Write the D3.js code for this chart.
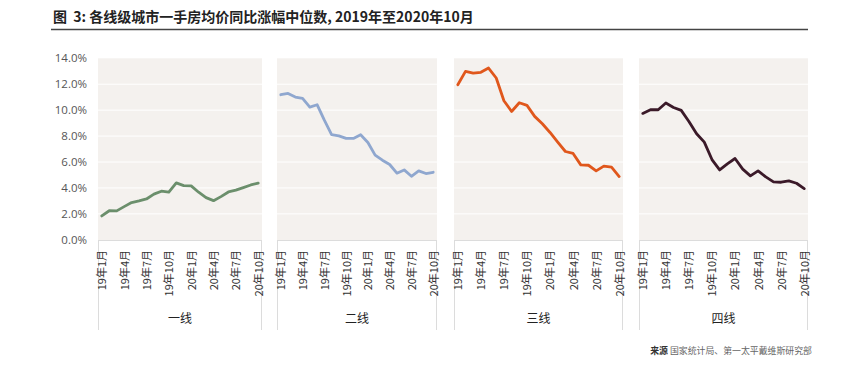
<!DOCTYPE html>
<html>
<head>
<meta charset="utf-8">
<script src="https://cdn.jsdelivr.net/npm/d3@7"></script>
<style>
  html, body { margin: 0; padding: 0; background: #ffffff; }
  svg { display: block; }
</style>
</head>
<body>
<svg id="chart" width="860" height="386"></svg>
<script>
// ---- data ----
const months = ["19年1月","19年2月","19年3月","19年4月","19年5月","19年6月","19年7月","19年8月","19年9月","19年10月","19年11月","19年12月",
                "20年1月","20年2月","20年3月","20年4月","20年5月","20年6月","20年7月","20年8月","20年9月","20年10月"];
const tickLabels = ["19年1月","19年4月","19年7月","19年10月","20年1月","20年4月","20年7月","20年10月"];
const tiers = ["一线","二线","三线","四线"];
const tier1 = [1.84,2.24,2.23,2.56,2.87,3.00,3.15,3.52,3.75,3.67,4.39,4.18,4.16,3.67,3.25,3.02,3.33,3.69,3.83,4.03,4.23,4.37];
const tier2 = [11.19,11.29,11.01,10.91,10.24,10.42,9.23,8.12,8.02,7.82,7.82,8.10,7.51,6.53,6.14,5.81,5.14,5.39,4.90,5.32,5.11,5.21];
const tier3 = [11.96,12.99,12.86,12.92,13.25,12.48,10.73,9.90,10.57,10.37,9.52,8.95,8.28,7.53,6.81,6.66,5.78,5.75,5.32,5.68,5.60,4.88];
const tier4 = [9.75,10.03,10.03,10.55,10.21,9.98,9.13,8.18,7.53,6.19,5.39,5.86,6.27,5.45,4.93,5.32,4.85,4.47,4.44,4.54,4.36,3.95];
const yTicks = [0,2,4,6,8,10,12,14];
const title = "图\u00A0\u00A03: 各线级城市一手房均价同比涨幅中位数, 2019年至2020年10月";
const sourceLabel = "来源";
const sourceText = "国家统计局、第一太平戴维斯研究部";

// ---- layout / style ----
const series = [tier1, tier2, tier3, tier4];
const colors = ["#6b8f6c", "#8fa7cf", "#e0571c", "#3b1a29"];
const panels = [[98,262],[277,437],[454,623],[639,808]];
const plotTop = 58.3, plotBottom = 240;
const cjk = "'Noto Sans CJK SC', 'Noto Sans', sans-serif";

const svg = d3.select("#chart");

// title
svg.append("text")
  .attr("x", 53).attr("y", 22)
  .attr("font-family", cjk).attr("font-size", 14).attr("font-weight", 700)
  .attr("fill", "#222")
  .text(title);
svg.append("line")
  .attr("x1", 51).attr("x2", 808).attr("y1", 29.5).attr("y2", 29.5)
  .attr("stroke", "#444").attr("stroke-width", 1.5);

const y = d3.scaleLinear().domain([0, 14]).range([239.8, 58.3]);

// y axis labels
const yAxis = d3.axisLeft(y).tickValues(yTicks).tickFormat(d => d3.format(".1f")(d) + "%").tickSize(0).tickPadding(0);
const yg = svg.append("g").attr("transform", "translate(87,0)").call(yAxis);
yg.select(".domain").remove();
yg.selectAll("text").attr("font-family", "'Open Sans', sans-serif").attr("font-size", 11.5).attr("fill", "#555");

panels.forEach((p, i) => {
  const [x0, x1] = p;
  const g = svg.append("g");
  // background
  g.append("rect").attr("x", x0).attr("y", plotTop).attr("width", x1 - x0).attr("height", plotBottom - plotTop)
    .attr("fill", "#f4f1ee");
  // gridlines
  g.selectAll("line.grid").data(yTicks.filter(t => t > 0 && t < 14)).join("line")
    .attr("class", "grid")
    .attr("x1", x0).attr("x2", x1)
    .attr("y1", d => y(d)).attr("y2", d => y(d))
    .attr("stroke", "#ffffff").attr("stroke-width", 1);
  // separators in label area
  g.append("line").attr("x1", x0 + 0.5).attr("x2", x0 + 0.5).attr("y1", plotBottom).attr("y2", 330)
    .attr("stroke", "#dcdcdc").attr("stroke-width", 1);
  g.append("line").attr("x1", x1 - 0.5).attr("x2", x1 - 0.5).attr("y1", plotBottom).attr("y2", 330)
    .attr("stroke", "#dcdcdc").attr("stroke-width", 1);

  const x = d3.scalePoint().domain(months).range([x0 + 3.8, x1 - 3.8]);

  // x axis
  const xAxis = d3.axisBottom(x).tickValues(tickLabels).tickSize(0).tickPadding(0);
  const xg = g.append("g").attr("transform", `translate(0,${plotBottom})`).call(xAxis);
  xg.select(".domain").attr("stroke", "#dcdcdc").attr("d", `M${x0},0.5H${x1}`);
  xg.selectAll("text")
    .attr("font-family", cjk).attr("font-size", 11).attr("fill", "#333")
    .attr("transform", "rotate(-90)")
    .attr("text-anchor", "end")
    .attr("x", -10).attr("y", 0).attr("dy", "0.36em");

  // line
  const line = d3.line().x((d, j) => x(months[j])).y(d => y(d));
  g.append("path").datum(series[i])
    .attr("d", line)
    .attr("fill", "none").attr("stroke", colors[i]).attr("stroke-width", 2.8)
    .attr("stroke-linejoin", "round").attr("stroke-linecap", "round");

  // panel label
  g.append("text").attr("x", (x0 + x1) / 2).attr("y", 323)
    .attr("text-anchor", "middle")
    .attr("font-family", cjk).attr("font-size", 12).attr("fill", "#222")
    .text(tiers[i]);
});

// source
const src = svg.append("text").attr("x", 812).attr("y", 354)
  .attr("text-anchor", "end")
  .attr("font-family", cjk).attr("font-size", 8.9).attr("fill", "#666");
src.append("tspan").attr("font-weight", 700).attr("fill", "#333").text(sourceLabel);
src.append("tspan").text(" " + sourceText);
</script>
</body>
</html>
